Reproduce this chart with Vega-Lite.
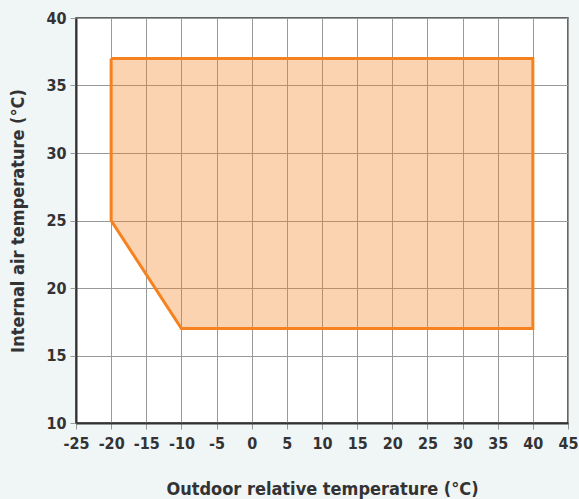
{
  "$schema": "https://vega.github.io/schema/vega-lite/v6.json",
  "autosize": {"type": "none"},
  "width": 492,
  "height": 405,
  "padding": {"left": 76, "top": 18, "right": 11, "bottom": 76},
  "background": "#f0f5f6",
  "config": {
    "view": {"stroke": "#333333", "strokeWidth": 1.5, "fill": "white"},
    "font": "DejaVu Sans Condensed, sans-serif",
    "axis": {
      "labelFont": "DejaVu Sans Condensed, sans-serif",
      "titleFont": "DejaVu Sans Condensed, sans-serif",
      "labelFontSize": 16,
      "labelFontWeight": "bold",
      "labelColor": "#333333",
      "titleFontSize": 18,
      "titleFontWeight": "bold",
      "titleColor": "#333333",
      "gridColor": "#999999",
      "gridOpacity": 1,
      "gridWidth": 1,
      "domainColor": "#333333",
      "domainWidth": 2,
      "tickColor": "#999999",
      "tickSize": 6,
      "tickWidth": 1
    }
  },
  "datasets": {
    "fillarea": [
      {"x": -20, "y": 37, "bottom": 25},
      {"x": -10, "y": 37, "bottom": 17},
      {"x": 40, "y": 37, "bottom": 17}
    ],
    "outline": [
      {"order": 1, "x": -20, "y": 37},
      {"order": 2, "x": 40, "y": 37},
      {"order": 3, "x": 40, "y": 17},
      {"order": 4, "x": -10, "y": 17},
      {"order": 5, "x": -20, "y": 25},
      {"order": 6, "x": -20, "y": 37}
    ]
  },
  "encoding": {
    "x": {
      "field": "x", "type": "quantitative",
      "scale": {"domain": [-25, 45], "nice": false, "zero": false},
      "axis": {"values": [-25, -20, -15, -10, -5, 0, 5, 10, 15, 20, 25, 30, 35, 40, 45], "tickCount": 20, "labelOverlap": false, "labelExpr": "'' + datum.value", "labelPadding": 6, "titlePadding": 29, "title": "Outdoor relative temperature (°C)", "labelFlush": false}
    },
    "y": {
      "field": "y", "type": "quantitative",
      "scale": {"domain": [10, 40], "nice": false, "zero": false},
      "axis": {"values": [10, 15, 20, 25, 30, 35, 40], "tickCount": 20, "labelOverlap": false, "labelPadding": 4, "titlePadding": 18, "title": "Internal air temperature (°C)", "labelFlush": false}
    }
  },
  "layer": [
    {
      "data": {"name": "fillarea"},
      "mark": {"type": "area", "color": "#f5821f", "opacity": 0.35},
      "encoding": {
        "y2": {"field": "bottom"}
      }
    },
    {
      "data": {"name": "outline"},
      "mark": {"type": "line", "color": "#f5821f", "strokeWidth": 3, "strokeJoin": "miter"},
      "encoding": {
        "order": {"field": "order", "type": "quantitative"}
      }
    }
  ]
}
